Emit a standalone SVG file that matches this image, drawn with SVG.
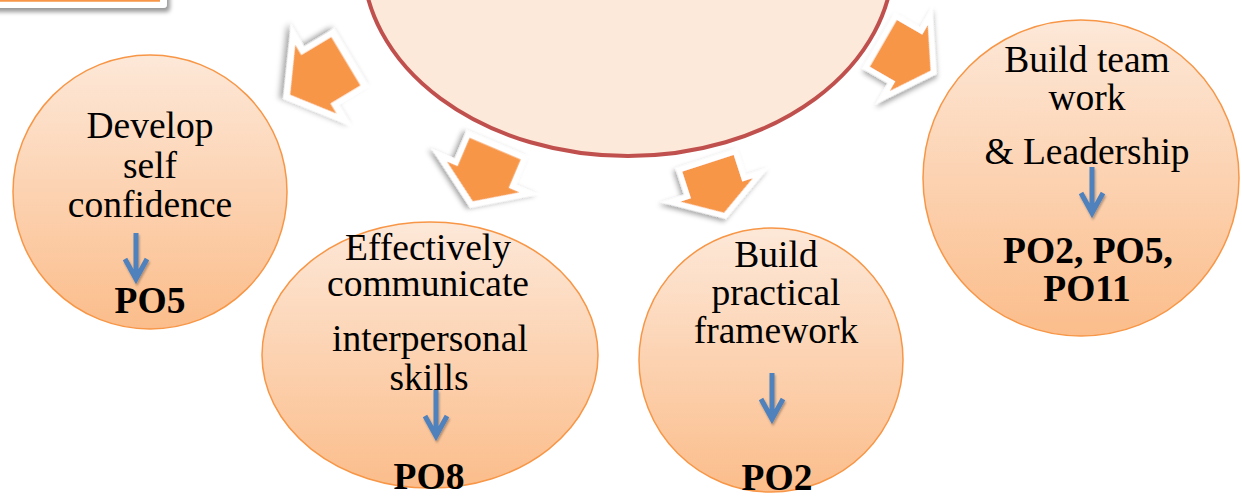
<svg xmlns="http://www.w3.org/2000/svg" width="1242" height="496" viewBox="0 0 1242 496">
<defs>
<style>
.t{font-family:"Liberation Serif","Times New Roman",Times,serif;font-size:37.5px;fill:#000;text-anchor:middle}
.b{font-weight:bold}
.node{fill:url(#ng);stroke:#f79646;stroke-width:1.5}
.oa{fill:#f79646;stroke:#fff;stroke-width:11;stroke-linejoin:miter;paint-order:stroke;filter:url(#sh)}
.ba{fill:none;stroke:#4f81bd;stroke-width:5;filter:url(#sh2)}
</style>
<linearGradient id="ng" x1="0" y1="0" x2="0" y2="1">
<stop offset="0" stop-color="#fde8d8"/>
<stop offset="1" stop-color="#fbbd8b"/>
</linearGradient>
<filter id="sh" x="-40%" y="-40%" width="180%" height="180%">
<feDropShadow dx="2" dy="3" stdDeviation="2.5" flood-color="#000" flood-opacity="0.35"/>
</filter>
<filter id="sh2" x="-50%" y="-20%" width="200%" height="150%">
<feDropShadow dx="1" dy="2" stdDeviation="1.2" flood-color="#000" flood-opacity="0.3"/>
</filter>
<filter id="sh3" x="-20%" y="-50%" width="140%" height="300%">
<feDropShadow dx="3" dy="4" stdDeviation="2" flood-color="#000" flood-opacity="0.4"/>
</filter>
<path id="oarrow" d="M-26,-27 L2,-27 L2,-38 L26,0 L2,38 L2,27 L-26,27 Z"/>
<path id="barrow" d="M0,0 V46 M-11,26 L0,46 L11,26"/>
</defs>
<rect width="1242" height="496" fill="#fff"/>

<g id="title-box">
<rect x="-20" y="-40" width="187" height="48" rx="4" fill="#fff" filter="url(#sh3)"/>
<line x1="0" y1="0.5" x2="160" y2="0.5" stroke="#f79646" stroke-width="2.5"/>
</g>

<g id="node-center">
<ellipse cx="628" cy="-40" rx="265" ry="196" fill="#fde9d9" stroke="#c0504d" stroke-width="4"/>
</g>

<g id="connectors">
<use href="#oarrow" class="oa" transform="translate(318,78) rotate(149) scale(1.25,1.05)"/>
<use href="#oarrow" class="oa" transform="translate(484,175) rotate(113) scale(1.1,1.03)"/>
<use href="#oarrow" class="oa" transform="translate(716,188) rotate(72)"/>
<use href="#oarrow" class="oa" transform="translate(907,57) rotate(30) scale(1.05,1)"/>
</g>

<g id="node-1">
<circle class="node" cx="150" cy="192" r="137"/>
<text class="t" x="150" y="138">Develop</text>
<text class="t" x="150" y="178">self</text>
<text class="t" x="150" y="217">confidence</text>
<use href="#barrow" class="ba" transform="translate(136,233)"/>
<text class="t b" x="150" y="313">PO5</text>
</g>

<g id="node-2">
<ellipse class="node" cx="430" cy="355" rx="168" ry="133"/>
<text class="t" x="428" y="260">Effectively</text>
<text class="t" x="428" y="296">communicate</text>
<text class="t" x="430" y="351">interpersonal</text>
<text class="t" x="429" y="390">skills</text>
<use href="#barrow" class="ba" transform="translate(436,390)"/>
<text class="t b" x="429" y="489">PO8</text>
</g>

<g id="node-3">
<circle class="node" cx="771" cy="360" r="132"/>
<text class="t" x="776" y="267">Build</text>
<text class="t" x="776" y="305">practical</text>
<text class="t" x="776" y="343">framework</text>
<use href="#barrow" class="ba" transform="translate(772,373)"/>
<text class="t b" x="777" y="490">PO2</text>
</g>

<g id="node-4">
<circle class="node" cx="1081" cy="178" r="158"/>
<text class="t" x="1087" y="72">Build team</text>
<text class="t" x="1087" y="110">work</text>
<text class="t" x="1087" y="164">&amp; Leadership</text>
<use href="#barrow" class="ba" transform="translate(1092,167)"/>
<text class="t b" x="1088" y="263">PO2, PO5,</text>
<text class="t b" x="1087" y="301">PO11</text>
</g>
</svg>
